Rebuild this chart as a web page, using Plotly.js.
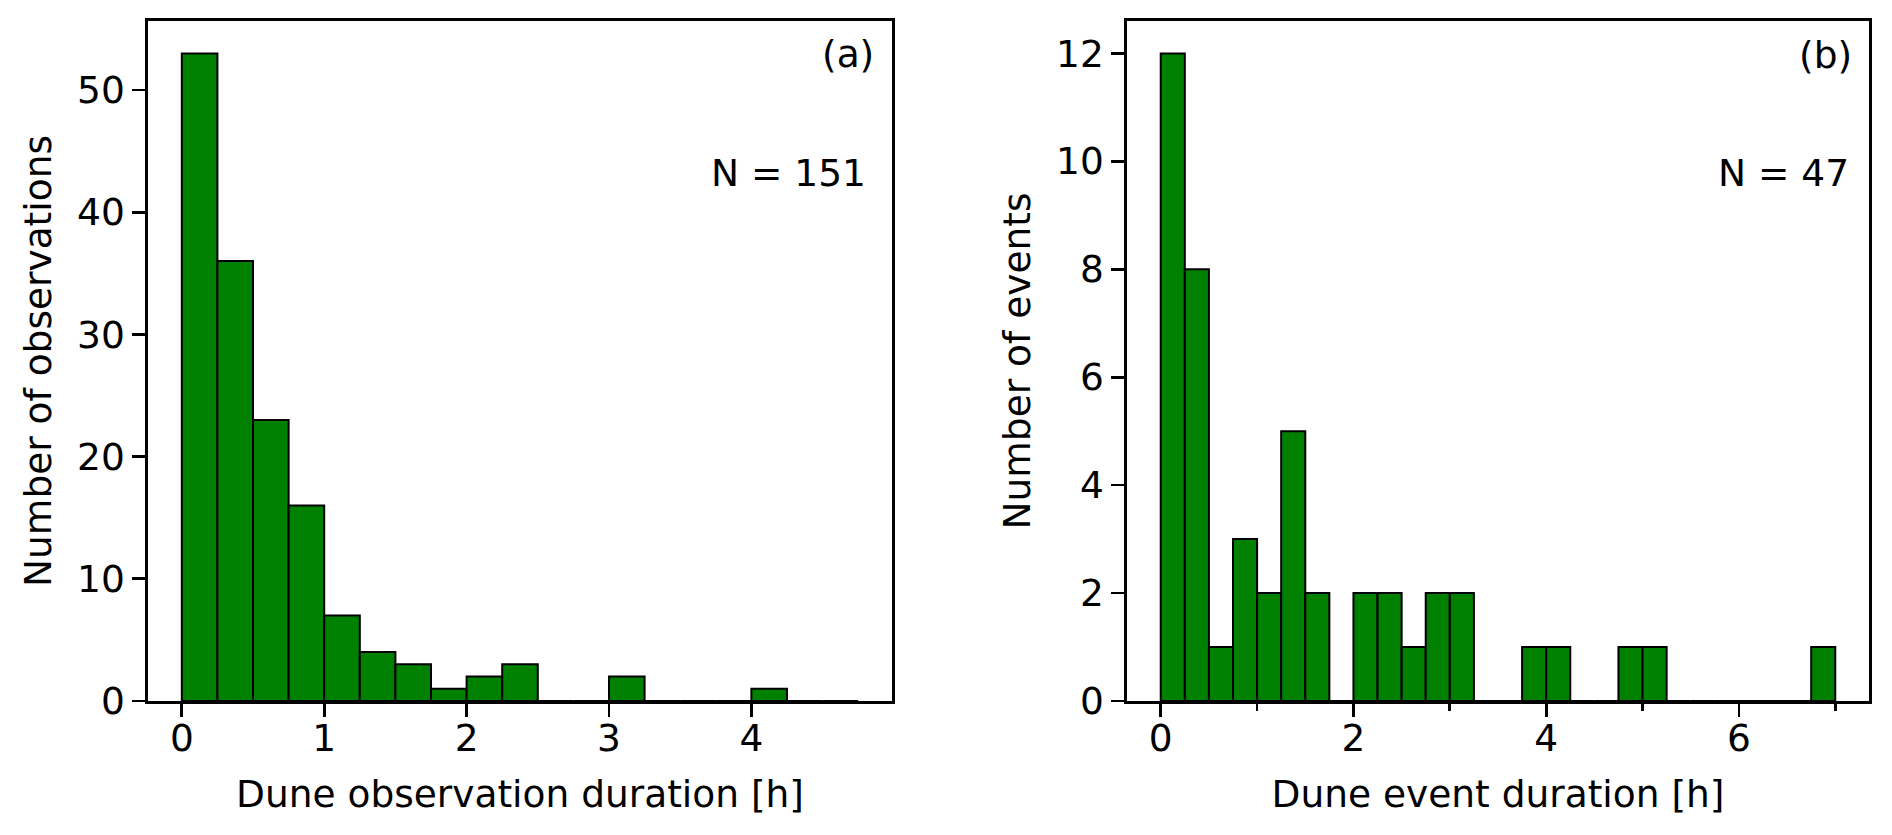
<!DOCTYPE html>
<html>
<head>
<meta charset="utf-8">
<script src="https://cdn.plot.ly/plotly-3.0.1.min.js"></script>
<style>html,body{margin:0;padding:0;background:#fff;}#chart{width:1892px;height:835px;}</style>
</head>
<body>
<div id="chart"></div>
<script>
// Histogram data (bin width 0.25 h, bins start at 0)
const binWidth = 0.25;
const obsCounts = [53, 36, 23, 16, 7, 4, 3, 1, 2, 3, 0, 0, 2, 0, 0, 0, 1, 0, 0];
const eventCounts = [12, 8, 1, 3, 2, 5, 2, 0, 2, 2, 1, 2, 2, 0, 0, 1, 1, 0, 0, 1, 1, 0, 0, 0, 0, 0, 0, 1];
const obsTicks = [0, 1, 2, 3, 4];
const eventTicks = [0, 2, 4, 6];
const eventMinorTicks = [1, 3, 5, 7];
const obsYTicks = [0, 10, 20, 30, 40, 50];
const eventYTicks = [0, 2, 4, 6, 8, 10, 12];
const labels = {
  a: "(a)", b: "(b)", nA: "N = 151", nB: "N = 47",
  xA: "Dune observation duration [h]", xB: "Dune event duration [h]",
  yA: "Number of observations", yB: "Number of events"
};

const centres = arr => arr.map((_, i) => i * binWidth + binWidth / 2);

const W = 1892, H = 835;
const FONT = {family: "DejaVu Sans", size: 37.5, color: "#000"};
const barStyle = {color: "#008000", line: {color: "#000", width: 2}};

const traces = [
  {type: "bar", x: centres(obsCounts), y: obsCounts, width: binWidth, marker: barStyle, xaxis: "x", yaxis: "y", hoverinfo: "x+y"},
  {type: "bar", x: centres(eventCounts), y: eventCounts, width: binWidth, marker: barStyle, xaxis: "x2", yaxis: "y2", hoverinfo: "x+y"}
];

const axisCommon = {
  showline: true, linecolor: "#000", linewidth: 2.7, mirror: true,
  ticks: "outside", ticklen: 13, tickwidth: 2.7, tickcolor: "#000",
  showgrid: false, zeroline: false, tickfont: FONT, fixedrange: true
};

const yTop = 1 - 21 / H, yBot = 1 - 701 / H;

const layout = {
  width: W, height: H,
  margin: {l: 0, r: 0, t: 0, b: 0},
  paper_bgcolor: "#fff", plot_bgcolor: "#fff",
  showlegend: false, bargap: 0, barmode: "overlay",
  font: FONT,
  xaxis: Object.assign({}, axisCommon, {
    domain: [148 / W, 892 / W], range: [-0.2375, 4.9875],
    tickmode: "array", tickvals: obsTicks, ticktext: obsTicks.map(String),
    ticklabelstandoff: -11,
    anchor: "y",
    title: {text: labels.xA, font: FONT, standoff: 22}
  }),
  yaxis: Object.assign({}, axisCommon, {
    domain: [yBot, yTop], range: [0, 55.65],
    tickmode: "array", tickvals: obsYTicks, ticktext: obsYTicks.map(String),
    anchor: "x",
    title: {text: labels.yA, font: FONT, standoff: 14}
  }),
  xaxis2: Object.assign({}, axisCommon, {
    domain: [1127 / W, 1869 / W], range: [-0.35, 7.35],
    tickmode: "array", tickvals: eventTicks, ticktext: eventTicks.map(String),
    ticklabelstandoff: -11,
    minor: {tickmode: "array", tickvals: eventMinorTicks, ticks: "outside", ticklen: 7, tickwidth: 2.7, tickcolor: "#000", showgrid: false},
    anchor: "y2",
    title: {text: labels.xB, font: FONT, standoff: 22}
  }),
  yaxis2: Object.assign({}, axisCommon, {
    domain: [yBot, yTop], range: [0, 12.6],
    tickmode: "array", tickvals: eventYTicks, ticktext: eventYTicks.map(String),
    anchor: "x2",
    title: {text: labels.yB, font: FONT, standoff: 14}
  }),
  annotations: [
    {text: labels.a, xref: "paper", yref: "paper", x: 876 / W, y: 1 - 54 / H, xanchor: "right", yanchor: "middle", showarrow: false, font: FONT},
    {text: labels.nA, xref: "paper", yref: "paper", x: 868 / W, y: 1 - 173 / H, xanchor: "right", yanchor: "middle", showarrow: false, font: FONT},
    {text: labels.b, xref: "paper", yref: "paper", x: 1854 / W, y: 1 - 55 / H, xanchor: "right", yanchor: "middle", showarrow: false, font: FONT},
    {text: labels.nB, xref: "paper", yref: "paper", x: 1851 / W, y: 1 - 173 / H, xanchor: "right", yanchor: "middle", showarrow: false, font: FONT}
  ]
};

Plotly.newPlot("chart", traces, layout, {staticPlot: true, displayModeBar: false});
</script>
</body>
</html>
